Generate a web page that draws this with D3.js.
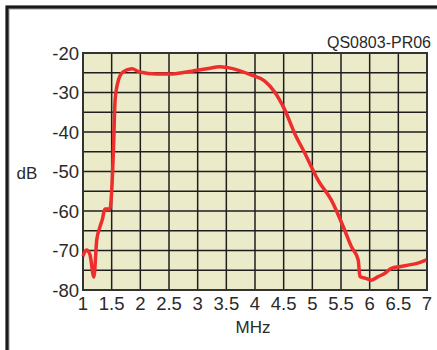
<!DOCTYPE html>
<html>
<head>
<meta charset="utf-8">
<script src="https://cdn.jsdelivr.net/npm/d3@7"></script>
<style>
  body { margin: 0; background: #fff; }
  text { font-family: "Liberation Sans", Arial, sans-serif; fill: #2a2a2a; }
</style>
</head>
<body>
<script>
var width = 437;
var height = 350;

// frequency (MHz) and response (dB)
var freq = [1.0, 1.06, 1.12, 1.19, 1.24, 1.29, 1.34, 1.38, 1.47, 1.50, 1.53, 1.56, 1.62, 1.70, 1.85,
            1.99, 2.28, 2.52, 2.81, 3.16, 3.39, 3.59, 3.94, 4.17, 4.34, 4.52, 4.69, 4.87, 5.01,
            5.10, 5.33, 5.54, 5.68, 5.80, 5.83, 5.92, 6.03, 6.15, 6.26, 6.38, 6.52, 6.67, 6.84, 6.99];
var dB = [-71.4, -69.9, -71.0, -76.7, -67.3, -64.3, -62.0, -59.5, -59.5, -55.0, -45.0, -31.9, -26.8, -24.8, -24.0,
          -24.8, -25.3, -25.3, -24.8, -24.0, -23.5, -23.9, -25.6, -27.1, -29.8, -34.4, -40.3, -45.4, -49.6,
          -52.2, -57.2, -64.0, -69.0, -72.4, -76.6, -77.0, -77.5, -76.6, -75.8, -74.5, -74.1, -73.7, -73.2, -72.4];

var xTicks = [1, 1.5, 2, 2.5, 3, 3.5, 4, 4.5, 5, 5.5, 6, 6.5, 7];
var yTicks = [-20, -30, -40, -50, -60, -70, -80];
var yGrid = d3.range(-80, -19, 5);

var svg = d3.select('body')
    .append('svg')
    .attr('width', width)
    .attr('height', height);

// outer frame (only top and left edges visible)
svg.append('path')
    .attr('d', 'M7.5,' + height + 'V7.5H' + width)
    .attr('fill', 'none')
    .attr('stroke', '#999')
    .attr('stroke-width', 4);
svg.append('path')
    .attr('d', 'M7,' + height + 'V7H' + width)
    .attr('fill', 'none')
    .attr('stroke', '#1a1a1a')
    .attr('stroke-width', 3);

var x = d3.scaleLinear().domain([1, 7]).range([83, 427]);
var y = d3.scaleLinear().domain([-80, -20]).range([290, 53]);

svg.append('rect')
    .attr('x', x(1)).attr('y', y(-20))
    .attr('width', x(7) - x(1)).attr('height', y(-80) - y(-20))
    .attr('fill', '#ecebc9');

var grid = svg.append('g');
grid.selectAll('line.v')
    .data(xTicks)
    .enter()
    .append('line')
    .attr('x1', d => x(d)).attr('x2', d => x(d))
    .attr('y1', y(-20)).attr('y2', y(-80))
    .attr('stroke', '#1e1e1e')
    .attr('stroke-width', 1.5);
grid.selectAll('line.h')
    .data(yGrid)
    .enter()
    .append('line')
    .attr('y1', d => y(d)).attr('y2', d => y(d))
    .attr('x1', x(1)).attr('x2', x(7))
    .attr('stroke', '#1e1e1e')
    .attr('stroke-width', 1.5);

svg.append('rect')
    .attr('x', x(1)).attr('y', y(-20))
    .attr('width', x(7) - x(1)).attr('height', y(-80) - y(-20))
    .attr('fill', 'none')
    .attr('stroke', '#333')
    .attr('stroke-width', 2);

var line = d3.line()
    .x(d => x(d[0]))
    .y(d => y(d[1]))
    .curve(d3.curveMonotoneX);

svg.append('path')
    .datum(d3.zip(freq, dB))
    .attr('d', line)
    .attr('fill', 'none')
    .attr('stroke', '#ee2d2d')
    .attr('stroke-width', 3.5)
    .attr('stroke-linejoin', 'round');

svg.selectAll('text.xt')
    .data(xTicks)
    .enter()
    .append('text')
    .attr('x', d => x(d))
    .attr('y', 310)
    .attr('text-anchor', 'middle')
    .style('font-size', '18.5px')
    .text(d => d);

svg.selectAll('text.yt')
    .data(yTicks)
    .enter()
    .append('text')
    .attr('x', 79)
    .attr('y', d => y(d) + 6.5)
    .attr('text-anchor', 'end')
    .style('font-size', '18.5px')
    .text(d => d);

svg.append('text')
    .attr('x', 253).attr('y', 333)
    .attr('text-anchor', 'middle')
    .style('font-size', '17px')
    .text('MHz');

svg.append('text')
    .attr('x', 27).attr('y', 179)
    .attr('text-anchor', 'middle')
    .style('font-size', '17px')
    .text('dB');

svg.append('text')
    .attr('x', 431).attr('y', 48)
    .attr('text-anchor', 'end')
    .style('font-size', '16px')
    .text('QS0803-PR06');
</script>
</body>
</html>
